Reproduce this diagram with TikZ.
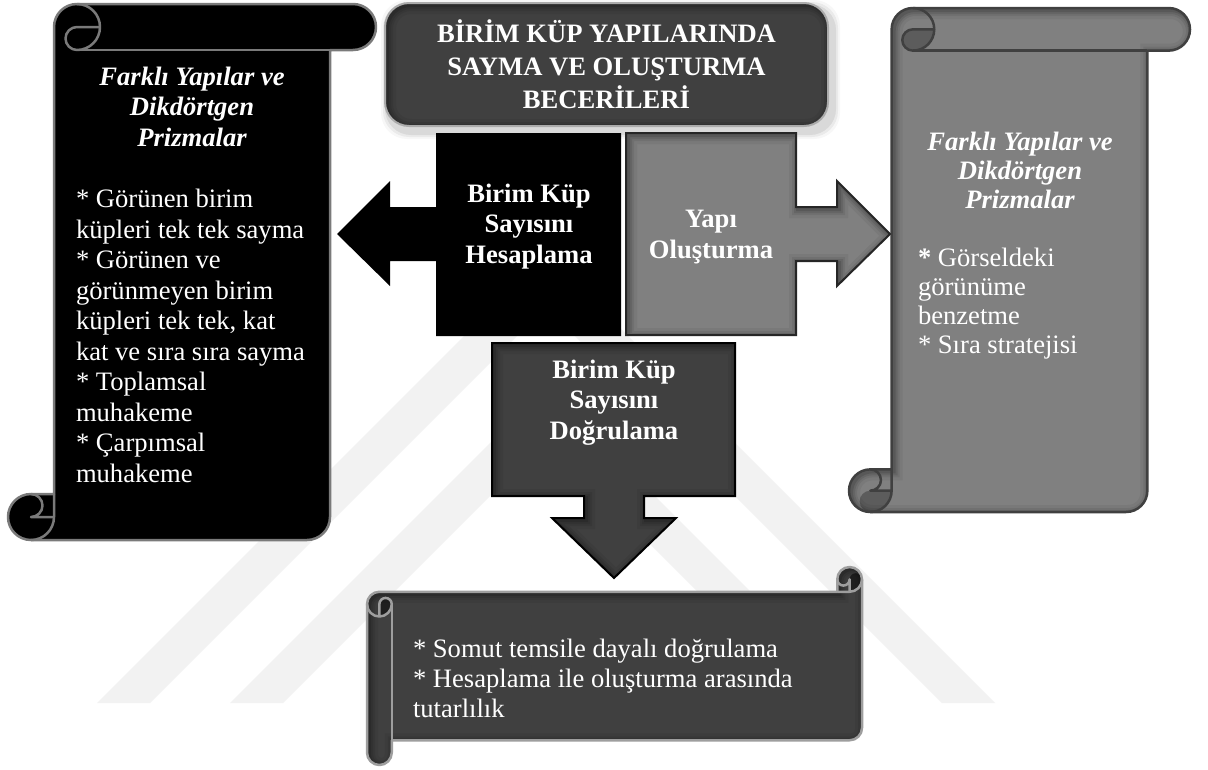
\documentclass[tikz,border=0pt]{standalone}
\usepackage{fontspec}
\setmainfont{Liberation Serif}

% geometry of a scroll (vertical form); l, t, r, b in pixels (y grows downwards)
\newcommand\vscrollgeom[4]{%
  \pgfmathsetmacro\sch{0.125*min(#3-#1,#4-#2)}%
  \pgfmathsetmacro\schh{\sch/2}%
  \pgfmathsetmacro\schq{\sch/4}%
  \pgfmathsetmacro\sxA{#1+\schh}%
  \pgfmathsetmacro\sxB{#1+\sch}%
  \pgfmathsetmacro\sxC{#1+1.5*\sch}%
  \pgfmathsetmacro\sxD{#1+2*\sch}%
  \pgfmathsetmacro\sxF{#3-\sch}%
  \pgfmathsetmacro\sxG{#3-\schh}%
  \pgfmathsetmacro\syT{#2}%
  \pgfmathsetmacro\syB{#4}%
  \pgfmathsetmacro\syA{#2+\schh}%
  \pgfmathsetmacro\syE{#2+\sch}%
  \pgfmathsetmacro\syC{#4-\sch}%
  \pgfmathsetmacro\syD{#4-\schh}%
}
\def\scrolloutline{(\sxB,\syC) -- (\sxB,\syA) arc[start angle=180,delta angle=90,radius=\schh]
  -- (\sxG,\syT) arc[start angle=270,delta angle=180,radius=\schh]
  -- (\sxF,\syE) -- (\sxF,\syD) arc[start angle=0,delta angle=90,radius=\schh]
  -- (\sxA,\syB) arc[start angle=90,delta angle=180,radius=\schh] -- cycle}
\newcommand\fillscroll[2]{%
  \fill[#1] \scrolloutline;
  \fill[#2] (\sxD,\syA) arc[start angle=0,delta angle=90,radius=\schh]
     arc[start angle=90,delta angle=180,radius=\schq] -- cycle;
  \fill[#2] (\sxB,\syD) arc[start angle=0,delta angle=90,radius=\schh]
     arc[start angle=90,delta angle=180,radius=\schq] -- cycle;
}
\newcommand\shadescroll{%
  \begin{scope}
    \clip \scrolloutline;
    \foreach \lw/\op in {18/0.05,12/0.07,8/0.09,4/0.12}
      {\draw[line width=\lw,black,opacity=\op,shift={(2,2)}] \scrolloutline;}
  \end{scope}
}
\newcommand\strokescroll[1]{%
  \begin{scope}[draw=#1,line width=2.5,line join=round]
    \draw \scrolloutline;
    \draw (\sxC,\syT) arc[start angle=270,delta angle=180,radius=\schh]
       arc[start angle=90,delta angle=180,radius=\schq] -- (\sxD,\syA);
    \draw (\sxF,\syE) -- (\sxC,\syE);
    \draw (\sxA,\syC) arc[start angle=270,delta angle=180,radius=\schq] -- (\sxB,\syD);
    \draw (\sxA,\syB) arc[start angle=90,delta angle=-90,radius=\schh] -- (\sxB,\syC);
  \end{scope}
}
\newcommand\innershade[1]{%
  \begin{scope}
    \clip #1;
    \foreach \lw/\op in {18/0.05,12/0.07,8/0.09,4/0.12}
      {\draw[line width=\lw,black,opacity=\op,shift={(2,2)}] #1;}
  \end{scope}
}

% arrow callouts
\def\leftcallout{(436,133) -- (621,133) -- (621,336) -- (436,336) -- (436,261) -- (390,261)
  -- (390,286) -- (337,234) -- (390,181) -- (390,207) -- (436,207) -- cycle}
\def\rightcallout{(626,133) -- (796,133) -- (796,207) -- (837,207) -- (837,181) -- (890,234)
  -- (837,286) -- (837,261) -- (796,261) -- (796,335) -- (626,335) -- cycle}
\def\downcallout{(492,343) -- (735,343) -- (735,496) -- (644,496) -- (644,518) -- (676,518)
  -- (614,578) -- (552,518) -- (584,518) -- (584,496) -- (492,496) -- cycle}

\begin{document}
\begin{tikzpicture}[x=1pt,y=-1pt,
  lbl/.style={text=white,inner sep=0pt,outer sep=0pt,align=center,anchor=north},
  bodytxt/.style={text=white,inner sep=0pt,outer sep=0pt,align=left,anchor=north west,
    font=\fontsize{26.6}{30.5}\selectfont},
  headtxt/.style={lbl,font=\fontsize{26.6}{30.5}\selectfont\bfseries\itshape},
  boxtxt/.style={lbl,font=\fontsize{26.6}{30.5}\selectfont\bfseries},
  wmband/.style={fill=black!5},
]
\useasboundingbox (0,0) rectangle (1208,769);
\fill[white] (0,0) rectangle (1208,769);

% faint chevron watermark
\fill[wmband] (97,703) -- (546,254) -- (995,703) -- (942,703) -- (546,307) -- (150,703) -- cycle;
\fill[wmband] (230,703) -- (546,387) -- (862,703) -- (809,703) -- (546,440) -- (283,703) -- cycle;

% left scroll (black)
\vscrollgeom{8}{4}{376}{540}
\fillscroll{black}{black}
\strokescroll{black!52}

% right scroll (grey)
\vscrollgeom{849}{8}{1190}{512}
\fillscroll{black!50}{black!64}
\shadescroll
\strokescroll{black!75}

% bottom scroll (horizontal form: the vertical one with x and y swapped)
\begin{scope}[cm={0,-1,-1,0,(0,0)}]
  \vscrollgeom{567}{367}{765}{862}
  \fillscroll{black!75}{black!88}
  \shadescroll
  \strokescroll{black!38}
\end{scope}

% title box
\foreach \d/\op in {8/0.03,6/0.05,4/0.07}
  {\fill[black,opacity=\op,rounded corners=26] (385-\d+4,3-\d+5) rectangle (828+\d+4,126+\d+5);}
\fill[black!75,rounded corners=24] (385,3) rectangle (828,126);
\begin{scope}
  \clip[rounded corners=24] (385,3) rectangle (828,126);
  \foreach \lw/\op in {18/0.05,12/0.07,8/0.09,4/0.12}
    {\draw[line width=\lw,black,opacity=\op,rounded corners=24,shift={(2,2)}] (385,3) rectangle (828,126);}
\end{scope}
\draw[black!33,line width=2,rounded corners=24] (385,3) rectangle (828,126);

% arrow callouts
\fill[black] \leftcallout;
\fill[black!50] \rightcallout;
\innershade{\rightcallout}
\draw[black!85,line width=2,line join=miter] \rightcallout;
\fill[black!75] \downcallout;
\innershade{\downcallout}
\draw[black,line width=2,line join=miter] \downcallout;

% texts
\node[boxtxt,font=\fontsize{26.6}{33}\selectfont\bfseries] (title) at (606.5,18.9)
  {\strut BİRİM KÜP YAPILARINDA\\SAYMA VE OLUŞTURMA\\BECERİLERİ};
\node[boxtxt] (calc) at (529,180.65) {\strut Birim Küp\\Sayısını\\Hesaplama};
\node[boxtxt,font=\fontsize{26.6}{31}\selectfont\bfseries] (build) at (711,205.3) {\strut Yapı\\Oluşturma};
\node[boxtxt] (verify) at (614,356.65) {\strut Birim Küp\\Sayısını\\Doğrulama};

\node[headtxt] (lhead) at (192,63.65) {\strut Farklı Yapılar ve\\Dikdörtgen\\Prizmalar};
\node[bodytxt] (lbody) at (76,186.15) {\strut * Görünen birim\\küpleri tek tek sayma\\* Görünen ve\\görünmeyen birim\\küpleri tek tek, kat\\kat ve sıra sıra sayma\\* Toplamsal\\muhakeme\\* Çarpımsal\\muhakeme};

\node[headtxt,font=\fontsize{26.6}{29}\selectfont\bfseries\itshape] (rhead) at (1020,129.7) {\strut Farklı Yapılar ve\\Dikdörtgen\\Prizmalar};
\node[bodytxt,font=\fontsize{26.6}{29}\selectfont] (rbody) at (918,245.7) {\strut \textbf{*} Görseldeki\\görünüme\\benzetme\\* Sıra stratejisi};

\node[bodytxt,font=\fontsize{26.6}{30}\selectfont] (bbody) at (413,636) {\strut * Somut temsile dayalı doğrulama\\* Hesaplama ile oluşturma arasında\\tutarlılık};
\end{tikzpicture}
\end{document}
